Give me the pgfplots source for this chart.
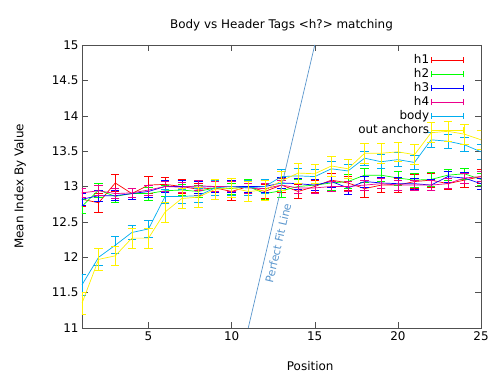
\documentclass[border=0pt]{standalone}
\usepackage{pgfplots}
\pgfplotsset{compat=1.18}
\usepackage{fontspec}
\setmainfont{DejaVu Sans}
\definecolor{fitblue}{RGB}{90,150,205}
\definecolor{axgray}{RGB}{80,80,80}
\begin{document}
\begin{tikzpicture}[font=\fontsize{12}{14}\selectfont]
\useasboundingbox (-82bp,-47bp) rectangle (418bp,328bp);
\begin{axis}[
  at={(0,0)}, anchor=south west,
  scale only axis, width=399bp, height=283bp,
  xmin=1, xmax=25, ymin=11, ymax=15,
  xtick={5,10,15,20,25},
  ytick={11,11.5,12,12.5,13,13.5,14,14.5,15},
  tick align=inside, tick pos=both,
  major tick length=6bp,
  axis line style={axgray},
  every tick/.style={axgray},
  /pgf/number format/assume math mode=true,
  title={Body vs Header Tags <h?> matching},
  title style={yshift=5bp},
  xlabel={Position}, ylabel={Mean Index By Value},
  xlabel style={at={(axis description cs:0.572,0)}, anchor=center, yshift=-38bp},
  ylabel style={at={(axis description cs:-0.155,0.5)}, anchor=center},
  legend style={draw=none, fill=none, at={(0.965,0.98)}, anchor=north east, row sep=-0.6bp},
  legend cell align=right,
  legend plot pos=right,
  legend image code/.code={
    \draw[#1] (0bp,0bp) -- (32bp,0bp);
    \draw[#1] (0bp,-3bp) -- (0bp,3bp);
    \draw[#1] (32bp,-3bp) -- (32bp,3bp);},
  every axis plot/.append style={line width=0.7bp},
  error bars/error mark=-,
  error bars/error mark options={rotate=90, mark size=4.2bp, line width=0.7bp},
]
\addplot[red, mark=none, error bars/.cd, y dir=both, y explicit] table[x=x, y=y, y error=e] {
x y e
1 12.82 0.10
2 12.77 0.14
3 13.05 0.12
4 12.90 0.08
5 13.02 0.12
6 13.03 0.10
7 13.00 0.10
8 12.96 0.08
9 12.98 0.10
10 12.93 0.12
11 13.00 0.10
12 12.93 0.10
13 13.02 0.10
14 12.93 0.10
15 13.00 0.08
16 13.09 0.10
17 13.05 0.10
18 12.97 0.12
19 13.02 0.10
20 13.02 0.10
21 13.07 0.10
22 13.09 0.10
23 13.04 0.08
24 13.09 0.10
25 13.14 0.10
};
\addlegendentry{h1}
\addplot[green, mark=none, error bars/.cd, y dir=both, y explicit] table[x=x, y=y, y error=e] {
x y e
1 12.72 0.10
2 12.95 0.10
3 12.86 0.08
4 12.90 0.08
5 12.90 0.09
6 12.94 0.08
7 12.95 0.08
8 12.93 0.08
9 12.98 0.10
10 12.97 0.08
11 13.00 0.10
12 12.90 0.08
13 12.94 0.10
14 13.00 0.10
15 13.02 0.08
16 13.05 0.10
17 13.07 0.10
18 13.16 0.10
19 13.16 0.09
20 13.12 0.10
21 13.09 0.10
22 13.10 0.10
23 13.16 0.08
24 13.18 0.08
25 13.10 0.08
};
\addlegendentry{h2}
\addplot[blue, mark=none, error bars/.cd, y dir=both, y explicit] table[x=x, y=y, y error=e] {
x y e
1 12.82 0.08
2 12.87 0.08
3 12.87 0.07
4 12.90 0.08
5 12.93 0.08
6 13.00 0.08
7 13.00 0.08
8 12.99 0.08
9 13.00 0.08
10 13.00 0.08
11 13.00 0.08
12 13.00 0.08
13 13.05 0.08
14 13.04 0.08
15 13.02 0.08
16 13.07 0.08
17 12.98 0.09
18 13.07 0.08
19 13.05 0.08
20 13.04 0.09
21 13.04 0.08
22 13.02 0.08
23 13.14 0.08
24 13.12 0.08
25 13.04 0.08
};
\addlegendentry{h3}
\addplot[magenta, mark=none, error bars/.cd, y dir=both, y explicit] table[x=x, y=y, y error=e] {
x y e
1 12.91 0.07
2 12.94 0.07
3 12.90 0.07
4 12.91 0.07
5 12.95 0.07
6 13.00 0.07
7 12.99 0.07
8 13.01 0.07
9 13.00 0.07
10 13.00 0.07
11 12.98 0.07
12 12.97 0.07
13 13.02 0.07
14 12.98 0.07
15 12.98 0.07
16 13.00 0.07
17 13.00 0.07
18 13.02 0.07
19 13.04 0.07
20 13.02 0.07
21 13.02 0.07
22 13.02 0.07
23 13.04 0.07
24 13.12 0.07
25 13.14 0.07
};
\addlegendentry{h4}
\addplot[cyan, mark=none, error bars/.cd, y dir=both, y explicit] table[x=x, y=y, y error=e] {
x y e
1 11.61 0.15
2 12.00 0.12
3 12.17 0.12
4 12.35 0.10
5 12.40 0.12
6 12.86 0.10
7 12.86 0.10
8 12.87 0.10
9 12.98 0.10
10 13.00 0.12
11 12.98 0.10
12 13.00 0.10
13 13.14 0.10
14 13.15 0.10
15 13.14 0.10
16 13.25 0.10
17 13.22 0.10
18 13.40 0.10
19 13.35 0.10
20 13.38 0.10
21 13.34 0.10
22 13.66 0.10
23 13.64 0.10
24 13.59 0.10
25 13.49 0.10
};
\addlegendentry{body}
\addplot[yellow, mark=none, error bars/.cd, y dir=both, y explicit] table[x=x, y=y, y error=e] {
x y e
1 11.35 0.15
2 11.97 0.15
3 12.02 0.14
4 12.27 0.14
5 12.27 0.14
6 12.64 0.14
7 12.83 0.14
8 12.85 0.14
9 12.96 0.14
10 12.98 0.14
11 12.93 0.14
12 12.95 0.14
13 13.08 0.14
14 13.19 0.14
15 13.18 0.14
16 13.29 0.14
17 13.25 0.14
18 13.47 0.14
19 13.47 0.14
20 13.49 0.14
21 13.45 0.14
22 13.76 0.14
23 13.78 0.14
24 13.74 0.14
25 13.66 0.14
};
\addlegendentry{out anchors}
\addplot[fitblue, mark=none, forget plot] coordinates {(11,11) (15,15)};
\node[fitblue, rotate=76.8, font=\fontsize{11}{13}\selectfont] at (axis cs:12.8,12.2) {Perfect Fit Line};
\end{axis}
\end{tikzpicture}
\end{document}
